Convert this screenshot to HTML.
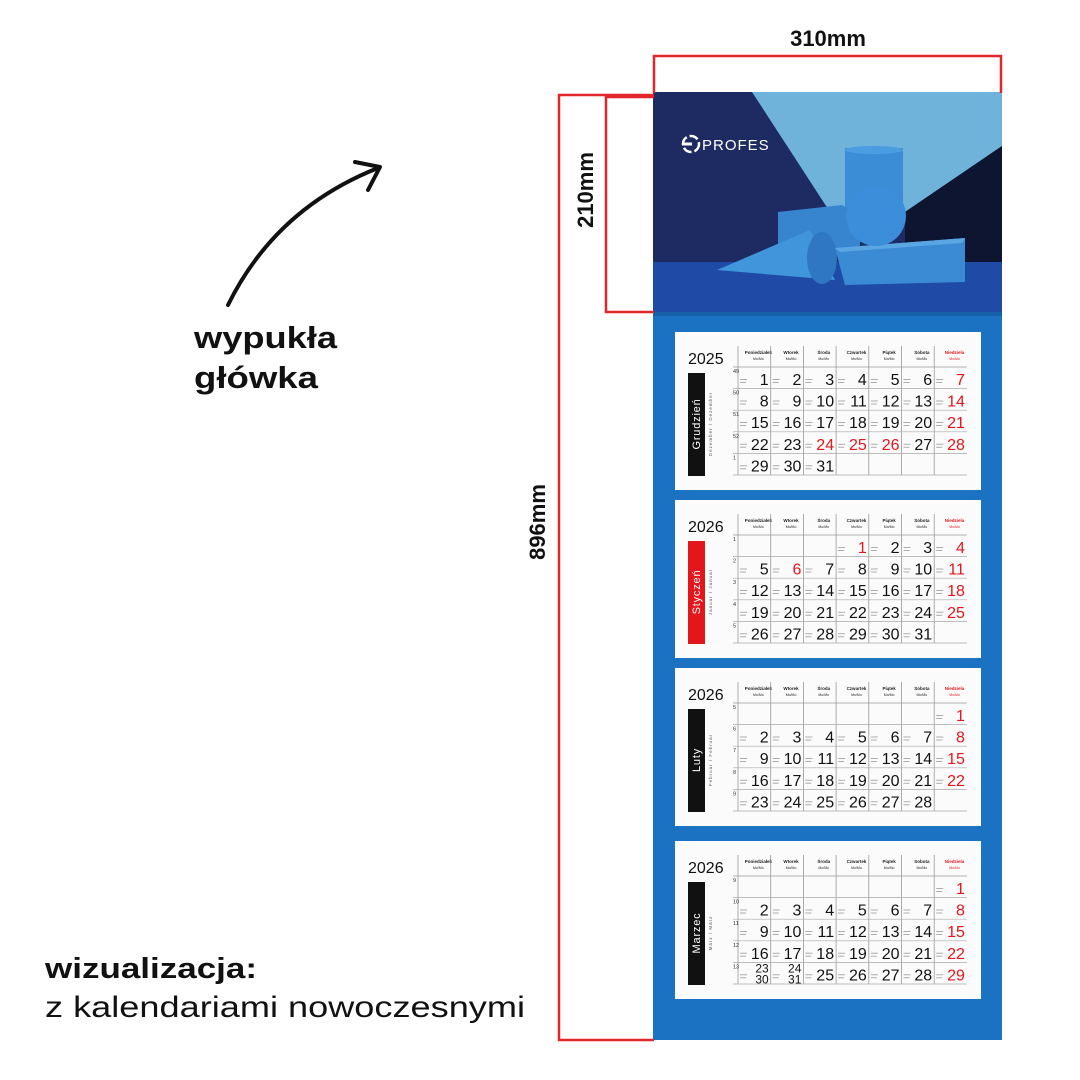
<!DOCTYPE html>
<html><head><meta charset="utf-8"><style>
html,body{margin:0;padding:0;background:#fff;}
svg{display:block;font-family:"Liberation Sans",sans-serif;}
</style></head><body>
<svg id="s" width="1080" height="1080" viewBox="0 0 1080 1080" xmlns="http://www.w3.org/2000/svg">
<rect width="1080" height="1080" fill="#fff"/>
<rect x="653" y="92" width="349" height="220" fill="#1d2b62"/>
<polygon points="752,92 1002,92 1002,146 905,212 830,212" fill="#6fb3da"/>
<polygon points="1002,146 1002,270 905,270 905,212" fill="#0d1530"/>
<rect x="653" y="262" width="349" height="50" fill="#1f4aa6"/>
<rect x="845" y="148" width="58" height="60" fill="#3b8dd6"/>
<ellipse cx="874" cy="150" rx="29" ry="4" fill="#4a9de0"/>
<polygon points="778,212 842,205 860,215 860,250 778,255" fill="#3785cf"/>
<polygon points="717,270 810,230 835,280" fill="#4195da"/>
<ellipse cx="822" cy="258" rx="15" ry="26" fill="#2f77c2"/>
<polygon points="835,248 965,238 965,282 845,285" fill="#3a8bd4"/>
<polygon points="835,248 965,238 962,243 840,252" fill="#5aa6e3"/>
<circle cx="876" cy="216" r="30" fill="#3c8edb"/>
<circle cx="691" cy="144" r="8" fill="none" stroke="#fff" stroke-width="2.5" stroke-dasharray="9 3"/>
<rect x="682" y="142.5" width="10" height="3" fill="#fff"/>
<text x="702" y="150" font-size="15" fill="#fff" letter-spacing="1">PROFES</text>
<rect x="653" y="312" width="349" height="728" fill="#1b72c2"/>
<rect x="653" y="312" width="349" height="4" fill="#1560a8"/>
<g fill="none" stroke="#e3262a" stroke-width="2.5">
<polyline points="654,93 654,56 1001,56 1001,93"/>
<polyline points="654,95 559,95 559,1040 654,1040"/>
<polyline points="654,97 606,97 606,312 654,312"/>
</g>
<text x="828" y="46" font-size="22" font-weight="bold" text-anchor="middle" fill="#111">310mm</text>
<text transform="translate(593,190) rotate(-90)" font-size="22" font-weight="bold" text-anchor="middle" fill="#111">210mm</text>
<text transform="translate(545,522) rotate(-90)" font-size="22" font-weight="bold" text-anchor="middle" fill="#111">896mm</text>
<path d="M228,305 C260,240 310,195 378,168" fill="none" stroke="#111" stroke-width="4" stroke-linecap="round"/>
<polyline points="355,162 380,167 368,190" fill="none" stroke="#111" stroke-width="4" stroke-linecap="round" stroke-linejoin="round"/>
<text x="194" y="348" font-size="31" font-weight="bold" fill="#111" textLength="143" lengthAdjust="spacingAndGlyphs">wypukła</text>
<text x="194" y="388" font-size="31" font-weight="bold" fill="#111" textLength="124" lengthAdjust="spacingAndGlyphs">główka</text>
<text x="45" y="978" font-size="29" font-weight="bold" fill="#111" textLength="212" lengthAdjust="spacingAndGlyphs">wizualizacja:</text>
<text x="45" y="1017" font-size="30" fill="#111" textLength="480" lengthAdjust="spacingAndGlyphs">z kalendariami nowoczesnymi</text>
<g id="cal"></g>
</svg>
<script>
var NS="http://www.w3.org/2000/svg",g=document.getElementById("cal");
function el(t,a,txt){var e=document.createElementNS(NS,t);for(var k in a)e.setAttribute(k,a[k]);if(txt!=null)e.textContent=txt;g.appendChild(e);return e;}
var days=["Poniedziałek","Wtorek","Środa","Czwartek","Piątek","Sobota","Niedziela"];
var panels=[
{T:332,year:"2025",m:"Grudzień",sub:"Dezember / Dezember",bar:"#111",wk:[49,50,51,52,1],rows:[[1,2,3,4,5,6,7],[8,9,10,11,12,13,14],[15,16,17,18,19,20,21],[22,23,24,25,26,27,28],[29,30,31,0,0,0,0]],red:[24,25,26]},
{T:500,year:"2026",m:"Styczeń",sub:"Januar / Januar",bar:"#e3161b",wk:[1,2,3,4,5],rows:[[0,0,0,1,2,3,4],[5,6,7,8,9,10,11],[12,13,14,15,16,17,18],[19,20,21,22,23,24,25],[26,27,28,29,30,31,0]],red:[1,6]},
{T:668,year:"2026",m:"Luty",sub:"Februar / Februar",bar:"#111",wk:[5,6,7,8,9],rows:[[0,0,0,0,0,0,1],[2,3,4,5,6,7,8],[9,10,11,12,13,14,15],[16,17,18,19,20,21,22],[23,24,25,26,27,28,0]],red:[]},
{T:841,year:"2026",m:"Marzec",sub:"März / März",bar:"#111",wk:[9,10,11,12,13],rows:[[0,0,0,0,0,0,1],[2,3,4,5,6,7,8],[9,10,11,12,13,14,15],[16,17,18,19,20,21,22],["23/30","24/31",25,26,27,28,29]],red:[]}
];
panels.forEach(function(p){
 var T=p.T;
 el("rect",{x:675,y:T,width:306,height:158,fill:"#fbfbfb"});
 el("text",{x:688,y:T+32,"font-size":16,fill:"#111"},p.year);
 el("rect",{x:688,y:T+41,width:17,height:103,fill:p.bar});
 el("text",{transform:"translate(700,"+(T+92)+") rotate(-90)","font-size":11,fill:"#fff","text-anchor":"middle","letter-spacing":"0.8"},p.m);
 el("text",{transform:"translate(712,"+(T+92)+") rotate(-90)","font-size":4.5,fill:"#555","text-anchor":"middle","letter-spacing":"1"},p.sub);
 var x0=738,cw=32.7,top=T+35,rh=21.6;
 for(var c=0;c<7;c++){
  var cx=x0+c*cw, col=c==6?"#e3161b":"#222";
  el("text",{x:cx+cw/2+4,y:T+22,"font-size":4.5,"font-weight":"bold",fill:col,"text-anchor":"middle"},days[c]);
  el("text",{x:cx+cw/2+4,y:T+28,"font-size":3.5,fill:col,"text-anchor":"middle"},"Mo/Mo");
  el("line",{x1:cx,y1:T+14,x2:cx,y2:T+143,stroke:"#999","stroke-width":0.8});
 }
 el("line",{x1:x0-5,y1:top,x2:x0+7*cw,y2:top,stroke:"#999","stroke-width":0.7});
 for(var r=0;r<5;r++){
  var ry=top+r*rh;
  el("line",{x1:x0-5,y1:ry+rh,x2:x0+7*cw,y2:ry+rh,stroke:"#aaa","stroke-width":0.7});
  el("text",{x:733,y:ry+6,"font-size":5.5,fill:"#333"},p.wk[r]);
  for(var c=0;c<7;c++){
   var d=p.rows[r][c]; if(!d)continue;
   var cx=x0+c*cw, red=(c==6||p.red.indexOf(d)>=0), col=red?"#e3161b":"#111";
   if(typeof d=="string"){var a=d.split("/");
     el("text",{x:cx+cw-2,y:ry+10,"font-size":12,fill:col,"text-anchor":"end"},a[0]);
     el("text",{x:cx+cw-2,y:ry+21,"font-size":12,fill:col,"text-anchor":"end"},a[1]);
   } else el("text",{x:cx+cw-2,y:ry+18,"font-size":16,fill:col,"text-anchor":"end"},d);
   el("rect",{x:cx+2,y:ry+12,width:7,height:0.8,fill:"#999"});
   el("rect",{x:cx+2,y:ry+15,width:6,height:0.8,fill:"#999"});
  }
 }
});
</script>
</body></html>
